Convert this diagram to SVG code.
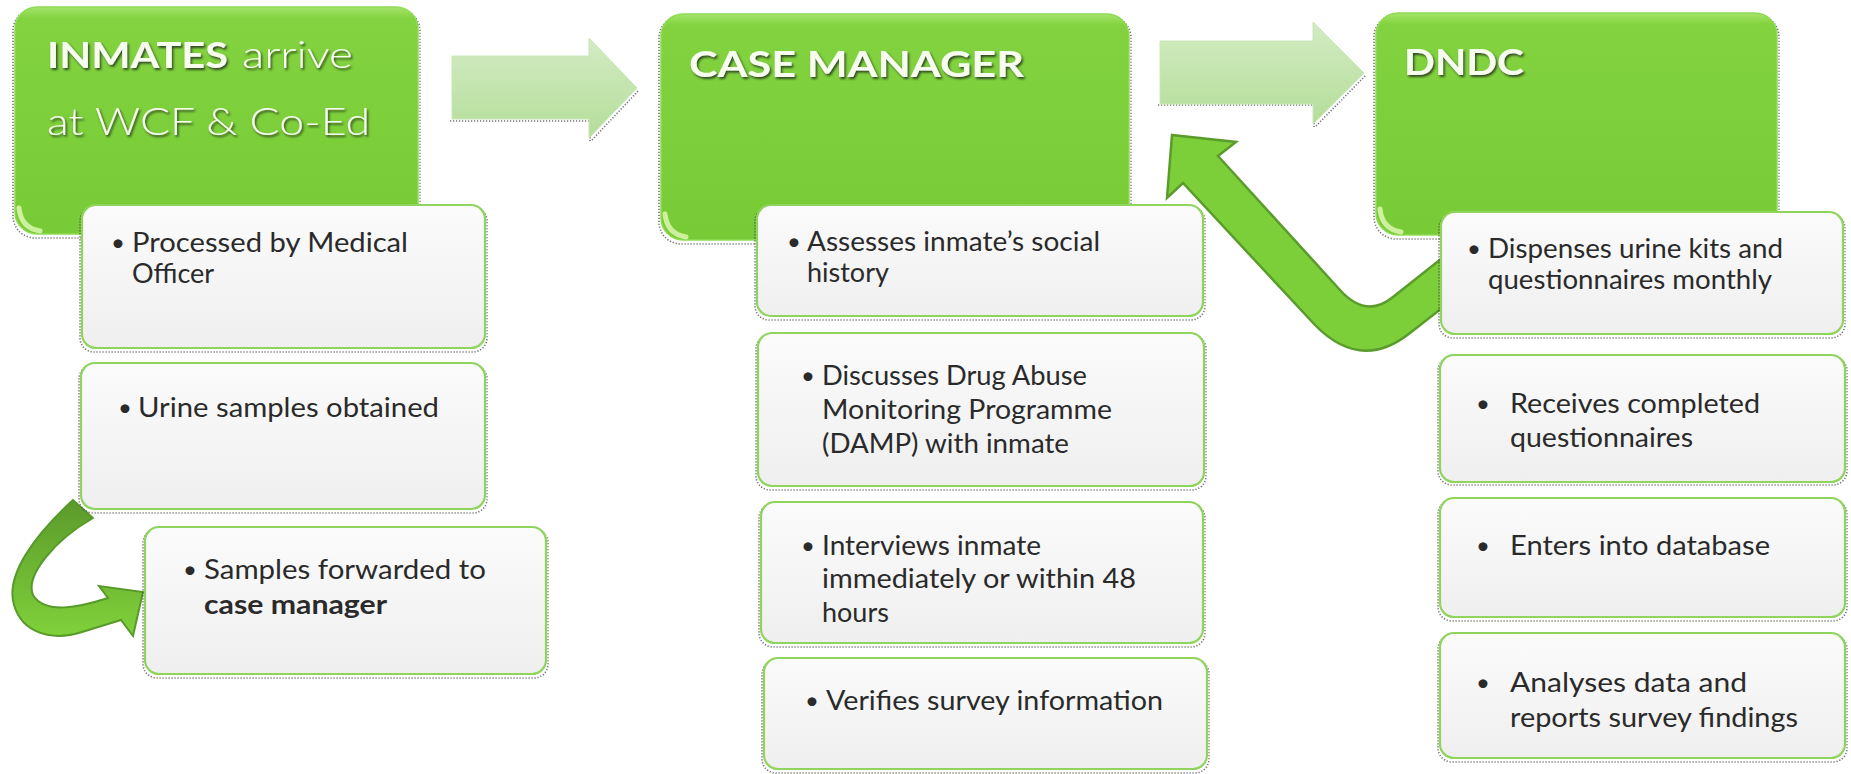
<svg xmlns="http://www.w3.org/2000/svg" width="1851" height="774" viewBox="0 0 1851 774">
<defs>
  <linearGradient id="gGreen" x1="0" y1="0" x2="0" y2="1">
    <stop offset="0" stop-color="#a6e46c"/>
    <stop offset="0.05" stop-color="#82d33f"/>
    <stop offset="1" stop-color="#78cb36"/>
  </linearGradient>
  <linearGradient id="gWhite" x1="0" y1="0" x2="0" y2="1">
    <stop offset="0" stop-color="#fbfbfb"/>
    <stop offset="1" stop-color="#efefef"/>
  </linearGradient>
  <linearGradient id="gBlock" x1="0" y1="0" x2="0" y2="1">
    <stop offset="0" stop-color="#d3ecc3"/>
    <stop offset="1" stop-color="#b4dd9a"/>
  </linearGradient>
  <linearGradient id="gCurve" x1="0" y1="0" x2="0" y2="1">
    <stop offset="0" stop-color="#5b9a2b"/>
    <stop offset="1" stop-color="#80d13b"/>
  </linearGradient>
  <filter id="hdrShadow" x="-10%" y="-30%" width="130%" height="170%">
    <feDropShadow dx="1.5" dy="2" stdDeviation="1" flood-color="#2a3a1c" flood-opacity="0.9"/>
  </filter>
  <style>
    .green { fill: url(#gGreen); stroke: #8edb52; stroke-width: 1.5; }
    .white { fill: url(#gWhite); stroke: #8fd45c; stroke-width: 2.2; }
    .dots { fill: none; stroke: #444; stroke-width: 1.6; stroke-dasharray: 1.2 1.8; opacity: 0.75; }
    .hl { fill: none; stroke: #dcf7b0; stroke-width: 5; stroke-linecap: round; opacity: 0.85; }
    .hdr { font-family: Lato, "Liberation Sans", sans-serif; font-size: 37px; font-weight: 300; fill: #f6fcee; filter: url(#hdrShadow); }
    .hb { font-weight: bold; }
    .txt { font-family: Lato, "Liberation Sans", sans-serif; font-size: 27px; fill: #2a2a2a; }
    .bul { font-family: Lato, "Liberation Sans", sans-serif; font-size: 24px; fill: #2a2a2a; }
    .block { fill: url(#gBlock); stroke: #c9e6b6; stroke-width: 1; }
    .curve { fill: url(#gCurve); stroke: #579a29; stroke-width: 2; stroke-linejoin: miter; }
    .back { fill: #7dcf3a; stroke: #5a9c2c; stroke-width: 2.5; stroke-linejoin: miter; }
  </style>
</defs>
<rect width="1851" height="774" fill="#ffffff"/>

<g id="connectors">
  <g id="arrow-inmates-case">
    <path class="dots" d="M450,121 L590,121 L590,141 M592,140 L639,90"/>
    <path class="block" d="M452,56 L589,56 L589,38 L637,88 L589,138 L589,119 L452,119 Z"/>
  </g>
  <g id="arrow-case-dndc">
    <path class="dots" d="M1158,105 L1314,105 L1314,127 M1316,126 L1366,75"/>
    <path class="block" d="M1160,41 L1313,41 L1313,22 L1364,73 L1313,124 L1313,104 L1160,104 Z"/>
  </g>
  <g id="arrow-dndc-case">
    <path class="back" d="M1172,135 L1236,142 L1218,156 L1340,290 Q1366,319 1393,297 L1446,255 L1446,305 L1410,333 Q1361,372 1315,325 L1183,183 L1167,198 Z"/>
  </g>
  <g id="arrow-urine-forward">
    <path class="curve" d="M73,500 C35,535 5,575 14,605 C22,632 50,642 82,632 L121,620 L133,636 L143,592 L99,586 L108,598 C80,607 45,615 33,595 C25,575 55,540 93,518 Z"/>
  </g>
</g>

<g id="node-inmates">
  <rect class="dots" x="13" y="9" width="407" height="229" rx="22"/>
  <rect class="green" x="15" y="7" width="403" height="227" rx="22"/>
  <path class="hl" d="M19,208 Q21,228 40,231"/>
  <text class="hdr hb" x="47" y="68" textLength="181" lengthAdjust="spacingAndGlyphs">INMATES</text>
  <text class="hdr" x="242" y="68" textLength="111" lengthAdjust="spacingAndGlyphs">arrive</text>
  <text class="hdr" x="47" y="135" textLength="323" lengthAdjust="spacingAndGlyphs">at WCF &amp; Co-Ed</text>
</g>

<g id="node-processed">
  <rect class="dots" x="80" y="207" width="407" height="145" rx="14"/>
  <rect class="white" x="82" y="205" width="403" height="143" rx="14"/>
  <text class="bul" x="111" y="251">•</text>
  <text class="txt" x="132" y="252" textLength="276" lengthAdjust="spacingAndGlyphs">Processed by Medical</text>
  <text class="txt" x="132" y="283">Officer</text>
</g>

<g id="node-urine">
  <rect class="dots" x="79" y="365" width="408" height="148" rx="14"/>
  <rect class="white" x="81" y="363" width="404" height="146" rx="14"/>
  <text class="bul" x="118" y="416">•</text>
  <text class="txt" x="138" y="417" textLength="301" lengthAdjust="spacingAndGlyphs">Urine samples obtained</text>
</g>

<g id="node-forwarded">
  <rect class="dots" x="143" y="529" width="405" height="149" rx="14"/>
  <rect class="white" x="145" y="527" width="401" height="147" rx="14"/>
  <text class="bul" x="183" y="578">•</text>
  <text class="txt" x="204" y="579" textLength="282" lengthAdjust="spacingAndGlyphs">Samples forwarded to</text>
  <text class="txt" x="204" y="614" font-weight="bold" textLength="183" lengthAdjust="spacingAndGlyphs">case manager</text>
</g>

<g id="node-case-manager">
  <rect class="dots" x="659" y="16" width="472" height="228" rx="22"/>
  <rect class="green" x="661" y="14" width="468" height="226" rx="22"/>
  <path class="hl" d="M665,214 Q667,234 686,237"/>
  <text class="hdr hb" x="689" y="77" textLength="335" lengthAdjust="spacingAndGlyphs">CASE MANAGER</text>
</g>

<g id="node-assesses">
  <rect class="dots" x="755" y="207" width="450" height="113" rx="14"/>
  <rect class="white" x="757" y="205" width="446" height="111" rx="14"/>
  <text class="bul" x="787" y="250">•</text>
  <text class="txt" x="807" y="251" textLength="293" lengthAdjust="spacingAndGlyphs">Assesses inmate’s social</text>
  <text class="txt" x="807" y="282">history</text>
</g>

<g id="node-discusses">
  <rect class="dots" x="756" y="335" width="450" height="155" rx="14"/>
  <rect class="white" x="758" y="333" width="446" height="153" rx="14"/>
  <text class="bul" x="801" y="384">•</text>
  <text class="txt" x="822" y="385" textLength="265" lengthAdjust="spacingAndGlyphs">Discusses Drug Abuse</text>
  <text class="txt" x="822" y="419" textLength="290" lengthAdjust="spacingAndGlyphs">Monitoring Programme</text>
  <text class="txt" x="822" y="453" textLength="247" lengthAdjust="spacingAndGlyphs">(DAMP) with inmate</text>
</g>

<g id="node-interviews">
  <rect class="dots" x="759" y="504" width="446" height="143" rx="14"/>
  <rect class="white" x="761" y="502" width="442" height="141" rx="14"/>
  <text class="bul" x="801" y="554">•</text>
  <text class="txt" x="822" y="555" textLength="219" lengthAdjust="spacingAndGlyphs">Interviews inmate</text>
  <text class="txt" x="822" y="588" textLength="314" lengthAdjust="spacingAndGlyphs">immediately or within 48</text>
  <text class="txt" x="822" y="622">hours</text>
</g>

<g id="node-verifies">
  <rect class="dots" x="762" y="660" width="447" height="113" rx="14"/>
  <rect class="white" x="764" y="658" width="443" height="111" rx="14"/>
  <text class="bul" x="805" y="709">•</text>
  <text class="txt" x="826" y="710" textLength="337" lengthAdjust="spacingAndGlyphs">Verifies survey information</text>
</g>

<g id="node-dndc">
  <rect class="dots" x="1374" y="15" width="405" height="224" rx="22"/>
  <rect class="green" x="1376" y="13" width="401" height="222" rx="22"/>
  <path class="hl" d="M1380,209 Q1382,229 1401,232"/>
  <text class="hdr hb" x="1404" y="75" textLength="120" lengthAdjust="spacingAndGlyphs">DNDC</text>
</g>

<g id="node-dispenses">
  <rect class="dots" x="1439" y="214" width="406" height="124" rx="14"/>
  <rect class="white" x="1441" y="212" width="402" height="122" rx="14"/>
  <text class="bul" x="1467" y="257">•</text>
  <text class="txt" x="1488" y="258" textLength="295" lengthAdjust="spacingAndGlyphs">Dispenses urine kits and</text>
  <text class="txt" x="1488" y="289" textLength="284" lengthAdjust="spacingAndGlyphs">questionnaires monthly</text>
</g>

<g id="node-receives">
  <rect class="dots" x="1438" y="357" width="409" height="128" rx="14"/>
  <rect class="white" x="1440" y="355" width="405" height="127" rx="14"/>
  <text class="bul" x="1476" y="412">•</text>
  <text class="txt" x="1510" y="413" textLength="250" lengthAdjust="spacingAndGlyphs">Receives completed</text>
  <text class="txt" x="1510" y="447" textLength="183" lengthAdjust="spacingAndGlyphs">questionnaires</text>
</g>

<g id="node-enters">
  <rect class="dots" x="1438" y="500" width="409" height="121" rx="14"/>
  <rect class="white" x="1440" y="498" width="405" height="119" rx="14"/>
  <text class="bul" x="1476" y="554">•</text>
  <text class="txt" x="1510" y="555" textLength="260" lengthAdjust="spacingAndGlyphs">Enters into database</text>
</g>

<g id="node-analyses">
  <rect class="dots" x="1438" y="635" width="409" height="127" rx="14"/>
  <rect class="white" x="1440" y="633" width="405" height="125" rx="14"/>
  <text class="bul" x="1476" y="691">•</text>
  <text class="txt" x="1510" y="692" textLength="237" lengthAdjust="spacingAndGlyphs">Analyses data and</text>
  <text class="txt" x="1510" y="727" textLength="288" lengthAdjust="spacingAndGlyphs">reports survey findings</text>
</g>
</svg>
